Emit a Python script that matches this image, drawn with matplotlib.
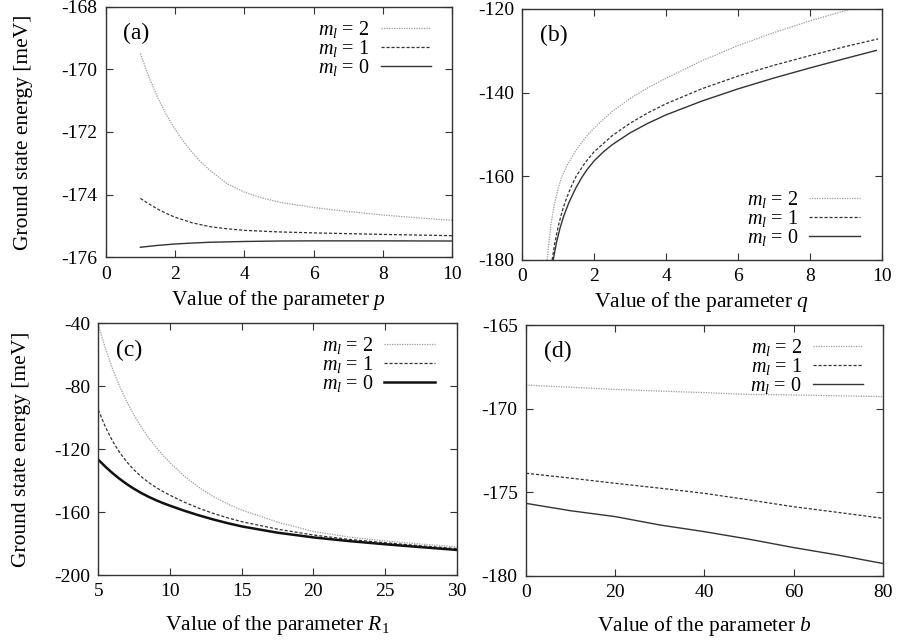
import matplotlib
matplotlib.use("Agg")
import matplotlib.pyplot as plt

plt.rcParams['font.family'] = ['Liberation Serif', 'DejaVu Serif']
plt.rcParams['mathtext.fontset'] = 'custom'
plt.rcParams['mathtext.rm'] = 'Liberation Serif'
plt.rcParams['mathtext.it'] = 'Liberation Serif:italic'
plt.rcParams['axes.unicode_minus'] = False

# ---------------- data ----------------
# (a) parameter p
p_m2 = [1, 1.25, 1.5, 1.75, 2, 2.25, 2.5, 2.75, 3, 3.5, 4, 4.5, 5, 6, 7, 8, 9, 10]
e_a_m2 = [-169.5, -170.25, -170.9, -171.45, -171.91, -172.31, -172.66, -172.96, -173.22,
          -173.65, -173.92, -174.1, -174.24, -174.41, -174.54, -174.65, -174.74, -174.82]
p_m1 = [1, 1.25, 1.5, 1.75, 2, 2.5, 3, 3.5, 4, 5, 6, 8, 10]
e_a_m1 = [-174.12, -174.3, -174.46, -174.6, -174.72, -174.9, -175.02, -175.09, -175.14,
          -175.19, -175.22, -175.27, -175.31]
p_m0 = [1, 1.5, 2, 2.5, 3, 4, 5, 6, 8, 10]
e_a_m0 = [-175.68, -175.62, -175.575, -175.545, -175.52, -175.495, -175.48, -175.475,
          -175.475, -175.48]

# (b) parameter q
q_m2 = [0.69, 0.75, 0.8, 0.85, 0.9, 1.0, 1.1, 1.25, 1.5, 1.75, 2, 2.5, 3, 3.5, 4, 5, 6, 7, 8, 9, 9.3]
e_b_m2 = [-180, -175, -171.4, -168.7, -166.4, -162.8, -160, -157.3, -153.7, -150.8, -148.4,
          -144.5, -141.4, -138.8, -136.55, -132.35, -128.75, -125.65, -122.85, -120.35, -119.6]
q_m1 = [0.83, 0.9, 1.0, 1.1, 1.2, 1.35, 1.5, 1.75, 2, 2.5, 3, 3.5, 4, 5, 6, 7, 8, 9, 9.9]
e_b_m1 = [-180, -176.15, -171.95, -168.65, -165.95, -162.65, -159.95, -156.7, -154.1, -150.3,
          -147.3, -144.8, -142.65, -139.05, -136.05, -133.45, -131.15, -128.95, -127.15]
q_m0 = [0.86, 0.95, 1.05, 1.15, 1.3, 1.5, 1.65, 1.8, 2, 2.25, 2.5, 3, 3.5, 4, 5, 6, 7, 8, 9, 9.85]
e_b_m0 = [-180, -175.86, -172.36, -169.56, -166.2, -162.6, -160.35, -158.4, -156.3, -154.2,
          -152.45, -149.6, -147.3, -145.3, -142.0, -139.1, -136.5, -134.1, -131.8, -129.9]

# (c) parameter R1
r_vals = [5, 5.5, 6, 6.5, 7, 7.5, 8, 8.5, 9, 9.5, 10, 11, 12, 13, 14, 15, 17.5, 20, 22.5, 25, 27.5, 30]
e_c_m2 = [-41, -56, -69, -80.25, -90, -98.5, -106, -112.6, -118.5, -123.8, -128.6, -137.2,
          -144.2, -150, -154.7, -158.7, -166.35, -172.35, -175.85, -178.35, -180.35, -182.05]
e_c_m1 = [-95, -106, -115, -122.25, -128.25, -133.25, -137.5, -141.1, -144.2, -146.9, -149.3,
          -153.7, -157.5, -160.8, -163.6, -166.1, -170.85, -174.6, -177.35, -179.5, -181.45, -183.2]
e_c_m0 = [-126.7, -131.2, -135.3, -139.0, -142.3, -145.25, -147.9, -150.25, -152.35, -154.25,
          -155.95, -159.15, -162.05, -164.65, -167.0, -169.1, -173.1, -176.1, -178.45, -180.45,
          -182.3, -184.05]

# (d) parameter b
b_vals = [0, 10, 20, 30, 40, 50, 60, 70, 80]
e_d_m2 = [-168.59, -168.72, -168.85, -168.95, -169.04, -169.15, -169.18, -169.23, -169.28]
e_d_m1 = [-173.86, -174.15, -174.46, -174.75, -175.06, -175.45, -175.86, -176.2, -176.55]
e_d_m0 = [-175.66, -176.1, -176.45, -176.95, -177.35, -177.8, -178.3, -178.75, -179.25]

labels = [r'$m_l$ = 2', r'$m_l$ = 1', r'$m_l$ = 0']
panel_letters = ['(a)', '(b)', '(c)', '(d)']

# ---------------- styles ----------------
st2 = dict(color='#9a9a9a', lw=0.9, ls=(0, (1, 1)))
st1 = dict(color='#333333', lw=0.9, ls=(0, (2.5, 1.5)))
st0 = dict(color='#333333', lw=1.0, ls='-')

FS_TICK = 14
FS_LAB = 15.5
FS_LEG = 14.5

fig = plt.figure(figsize=(8.98, 6.42), dpi=100)

def frac(l, r, t, b):
    W, H = 898.0, 642.0
    return [l / W, 1 - b / H, (r - l) / W, (b - t) / H]

axA = fig.add_axes(frac(105.7, 452.3, 6.7, 257.3))
axB = fig.add_axes(frac(522.3, 881.7, 9.0, 260.0))
axC = fig.add_axes(frac(98.3, 456.7, 323.3, 575.0))
axD = fig.add_axes(frac(526.0, 882.7, 325.0, 576.0))

def style(ax):
    for s in ax.spines.values():
        s.set_color('#333333')
        s.set_linewidth(1.0)
    ax.tick_params(direction='in', top=True, right=True, length=5, width=0.8,
                   color='#333333', labelsize=FS_TICK, pad=6)

# (a)
axA.plot(p_m2, e_a_m2, **st2, label=labels[0])
axA.plot(p_m1, e_a_m1, **st1, label=labels[1])
axA.plot(p_m0, e_a_m0, **st0, label=labels[2])
axA.set_xlim(0, 10); axA.set_ylim(-176, -168)
axA.set_xticks([0, 2, 4, 6, 8, 10]); axA.set_yticks([-176, -174, -172, -170, -168])
axA.set_xlabel(r'Value of the parameter $p$', fontsize=FS_LAB, labelpad=4)
axA.set_ylabel('Ground state energy [meV]', fontsize=FS_LAB)

# (b)
axB.plot(q_m2, e_b_m2, **st2, label=labels[0])
axB.plot(q_m1, e_b_m1, **st1, label=labels[1])
axB.plot(q_m0, e_b_m0, **st0, label=labels[2])
axB.set_xlim(0, 10); axB.set_ylim(-180, -120)
axB.set_xticks([0, 2, 4, 6, 8, 10]); axB.set_yticks([-180, -160, -140, -120])
axB.set_xlabel(r'Value of the parameter $q$', fontsize=FS_LAB, labelpad=3)

# (c)
st0c = dict(st0); st0c['lw'] = 1.8; st0c['color'] = '#111111'
axC.plot(r_vals, e_c_m2, **st2, label=labels[0])
axC.plot(r_vals, e_c_m1, **st1, label=labels[1])
axC.plot(r_vals, e_c_m0, **st0c, label=labels[2])
axC.set_xlim(5, 30); axC.set_ylim(-200, -40)
axC.set_xticks([5, 10, 15, 20, 25, 30]); axC.set_yticks([-200, -160, -120, -80, -40])
axC.set_xlabel(r'Value of the parameter $R_1$', fontsize=FS_LAB, labelpad=9)
axC.set_ylabel('Ground state energy [meV]', fontsize=FS_LAB)

# (d)
axD.plot(b_vals, e_d_m2, **st2, label=labels[0])
axD.plot(b_vals, e_d_m1, **st1, label=labels[1])
axD.plot(b_vals, e_d_m0, **st0, label=labels[2])
axD.set_xlim(0, 80); axD.set_ylim(-180, -165)
axD.set_xticks([0, 20, 40, 60, 80]); axD.set_yticks([-180, -175, -170, -165])
axD.set_xlabel(r'Value of the parameter $b$', fontsize=FS_LAB, labelpad=9)

for ax, letter, loc, anchor in zip([axA, axB, axC, axD], panel_letters,
                                   ['upper right', 'lower right', 'upper right', 'upper right'],
                                   [(0.974, 1), (0.972, 0), (0.972, 1), (0.98, 1)]):
    style(ax)
    ax.text(0.05, 0.935, letter, transform=ax.transAxes, fontsize=17,
            va='top', ha='left')
    ax.legend(loc=loc, bbox_to_anchor=anchor, frameon=False, markerfirst=False,
              fontsize=FS_LEG, handlelength=2.5, handletextpad=0.55,
              labelspacing=-0.1, borderaxespad=0.2)

axA.yaxis.set_label_coords(-0.21, 0.5)
axC.yaxis.set_label_coords(-0.187, 0.5)

fig.savefig('out.png', dpi=100)
